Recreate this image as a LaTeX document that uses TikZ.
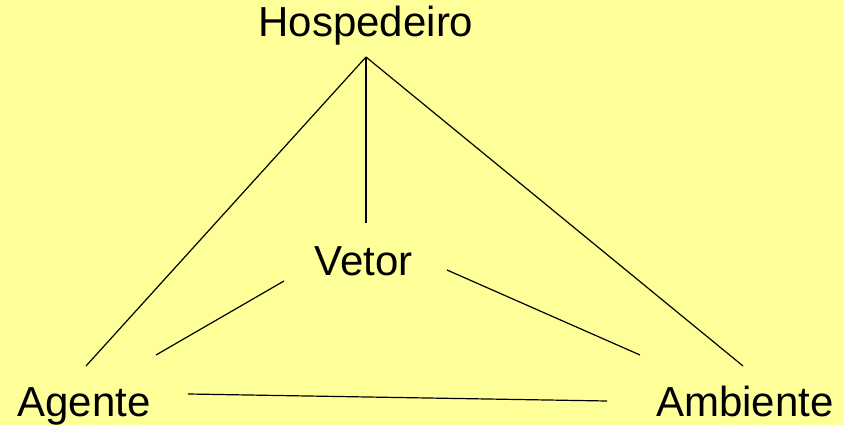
\documentclass[tikz,border=0pt]{standalone}
\usepackage{fontspec}
\setmainfont{Liberation Sans}
\definecolor{bgyellow}{HTML}{FFFF99}
\begin{document}
\begin{tikzpicture}[x=1pt,y=-1pt,
  lbl/.style={inner sep=0pt,anchor=base,font=\fontsize{42}{48}\selectfont},
  link/.style={draw=black,line width=1.2pt}]
\fill[bgyellow] (0,0) rectangle (844,425);
\useasboundingbox (0,0) rectangle (844,425);
\node[lbl] (hosp) at (366,37) {Hospedeiro};
\node[lbl] (vet) at (363.5,275) {Vetor};
\node[lbl] (ag) at (84,416.5) {Agente};
\node[lbl] (amb) at (745,416.5) {Ambiente};
\coordinate (apex) at (366,57);
\coordinate (hL) at (86,366);
\coordinate (hV) at (366,223);
\coordinate (hR) at (743,366);
\coordinate (vL1) at (284,281);
\coordinate (vL2) at (156,355);
\coordinate (vR1) at (447,270);
\coordinate (vR2) at (640,355);
\coordinate (aL) at (188,394);
\coordinate (aR) at (607,401);
\draw[link] (apex) -- (hL);
\draw[link] (apex) -- (hV);
\draw[link] (apex) -- (hR);
\draw[link] (vL1) -- (vL2);
\draw[link] (vR1) -- (vR2);
\draw[link] (aL) -- (aR);
\end{tikzpicture}
\end{document}
